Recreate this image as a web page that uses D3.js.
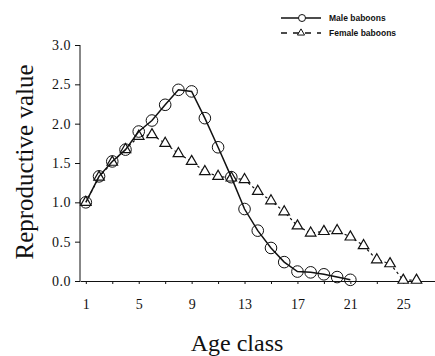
<!DOCTYPE html>
<html><head><meta charset="utf-8">
<script src="https://cdn.jsdelivr.net/npm/d3@7"></script>
<style>body{margin:0;background:#fff}svg{display:block}
text{font-family:"Liberation Serif","Times New Roman","DejaVu Serif",serif}</style>
</head><body><svg id="c" width="435" height="356"></svg>
<script>
const maleAges = [1,2,3,4,5,6,7,8,9,10,11,12,13,14,15,16,17,18,19,20,21];
const maleValues = [1.0,1.33,1.52,1.67,1.9,2.04,2.24,2.43,2.41,2.07,1.7,1.32,0.915,0.64,0.42,0.24,0.12,0.11,0.085,0.05,0.015];
const femaleAges = [1,2,3,4,5,6,7,8,9,10,11,12,13,14,15,16,17,18,19,20,21,22,23,24,25,26];
const femaleValues = [1.0,1.32,1.51,1.67,1.84,1.86,1.75,1.62,1.52,1.39,1.33,1.31,1.29,1.14,1.02,0.88,0.7,0.61,0.63,0.64,0.56,0.45,0.27,0.22,0.01,0.01];
const xTickValues = [1,3,5,7,9,11,13,15,17,19,21,23,25];
const xTickLabels = [1,5,9,13,17,21,25];
const yTickValues = [0,0.5,1,1.5,2,2.5,3];
const seriesNames = ["Male baboons","Female baboons"];

const svg = d3.select("#c");
const x = d3.scaleLinear().domain([0.56, 27.4]).range([80, 435]);
const y = d3.scaleLinear().domain([0, 3]).range([281, 45]);
const ink = "#111";
const serif = '"Liberation Serif","Times New Roman","DejaVu Serif",serif';

// y axis
const ya = svg.append("g").attr("transform","translate(80,0)")
  .call(d3.axisLeft(y).tickValues(yTickValues).tickSize(5).tickPadding(4).tickFormat(d3.format(".1f")));
ya.attr("font-family", null);
ya.select(".domain").attr("stroke",ink).attr("stroke-width",1).attr("d","M0,45V281");
ya.selectAll("line").attr("stroke",ink);
ya.selectAll("text").style("font-family",serif).style("font-size","14px").attr("fill",ink).attr("letter-spacing","0.5px");

// x axis
const xa = svg.append("g").attr("transform","translate(0,281)")
  .call(d3.axisBottom(x).tickValues(xTickValues).tickSize(3).tickSizeOuter(0)
    .tickFormat(d => xTickLabels.includes(d) ? d : ""));
xa.attr("font-family", null);
xa.select(".domain").attr("stroke",ink).attr("stroke-width",1.2);
xa.selectAll("line").attr("stroke",ink);
xa.selectAll("text").style("font-family",serif).style("font-size","14px").attr("fill",ink).attr("dy","1.55em");

// axis titles
svg.append("text").attr("transform","translate(33,162) rotate(-90)").attr("text-anchor","middle")
  .style("font-family",serif).style("font-size","25px").attr("fill",ink).text("Reproductive value");
svg.append("text").attr("x",237).attr("y",351).attr("text-anchor","middle")
  .style("font-family",serif).style("font-size","24px").attr("fill",ink).text("Age class");

const line = d3.line().x(d=>x(d[0])).y(d=>y(d[1]));
const female = femaleAges.map((a,i)=>[a,femaleValues[i]]);
const male = maleAges.map((a,i)=>[a,maleValues[i]]);

svg.append("path").datum(female).attr("d",line).attr("fill","none").attr("stroke",ink)
  .attr("stroke-width",1.2).attr("stroke-dasharray","2.5,3");
const tri = d3.symbol().type(d3.symbolTriangle).size(48);
svg.append("g").selectAll("path").data(female).join("path")
  .attr("d",tri).attr("transform",d=>`translate(${x(d[0])},${y(d[1])})`)
  .attr("fill","#fff").attr("stroke",ink).attr("stroke-width",1.2);

svg.append("path").datum(male).attr("d",line).attr("fill","none").attr("stroke",ink).attr("stroke-width",1.5);
svg.append("g").selectAll("circle").data(male).join("circle")
  .attr("cx",d=>x(d[0])).attr("cy",d=>y(d[1])).attr("r",5.8)
  .attr("fill","none").attr("stroke",ink).attr("stroke-width",1);

// legend
const lg = svg.append("g");
lg.append("line").attr("x1",281).attr("x2",321).attr("y1",18).attr("y2",18).attr("stroke",ink).attr("stroke-width",1.5);
lg.append("circle").attr("cx",302).attr("cy",18).attr("r",3.5).attr("fill","#fff").attr("stroke",ink);
lg.append("line").attr("x1",281).attr("x2",321).attr("y1",33).attr("y2",33).attr("stroke",ink).attr("stroke-width",1.3).attr("stroke-dasharray","6,6");
lg.append("path").attr("d",d3.symbol().type(d3.symbolTriangle).size(22)).attr("transform","translate(301,33)")
  .attr("fill","#fff").attr("stroke",ink);
lg.selectAll("text.l").data(seriesNames).join("text").attr("class","l")
  .attr("x",329).attr("y",(d,i)=>21+i*15).style("font-family",'"Liberation Sans","DejaVu Sans",sans-serif').attr("font-weight","bold")
  .style("font-size","8.5px").attr("fill",ink).text(d=>d);
</script></body></html>
